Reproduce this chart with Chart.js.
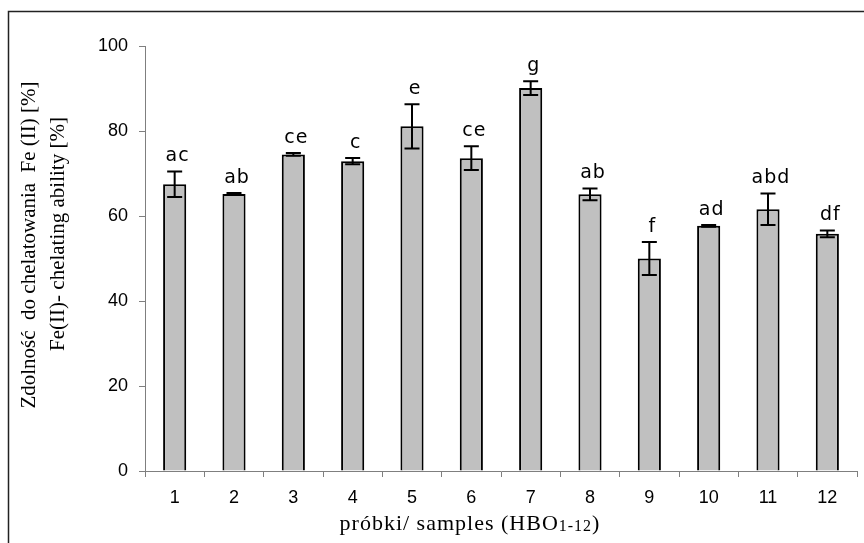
<!DOCTYPE html>
<html>
<head>
<meta charset="utf-8">
<script src="https://cdn.jsdelivr.net/npm/chart.js@4.4.1/dist/chart.umd.min.js"></script>
<style>
  html, body { margin: 0; padding: 0; background: #fff; }
  #box { position: relative; width: 864px; height: 543px; }
</style>
</head>
<body>
<div id="box"><canvas id="chelating"></canvas></div>
<script>
// chelating ability values
const samples = ['1', '2', '3', '4', '5', '6', '7', '8', '9', '10', '11', '12'];
const means = [67.5, 65.2, 74.5, 72.9, 81.1, 73.6, 90.1, 65.1, 50.0, 57.7, 61.6, 55.8];
const errors = [3.0, 0.2, 0.3, 0.75, 5.2, 2.8, 1.6, 1.4, 3.9, 0.2, 3.7, 0.8];
const letters = ['ac', 'ab', 'ce', 'c', 'e', 'ce', 'g', 'ab', 'f', 'ad', 'abd', 'df'];
const yTicks = [0, 20, 40, 60, 80, 100];

// outer frame (only left and top edges visible in the original)
const framePlugin = {
    id: 'frame',
    beforeDraw(chart) {
        const ctx = chart.ctx;
        ctx.save();
        ctx.fillStyle = '#fff';
        ctx.fillRect(0, 0, chart.width, chart.height);
        ctx.strokeStyle = '#222';
        ctx.lineWidth = 1.5;
        ctx.beginPath();
        ctx.moveTo(8.5, chart.height);
        ctx.lineTo(8.5, 11.5);
        ctx.lineTo(chart.width, 11.5);
        ctx.stroke();
        ctx.restore();
    }
};

// error bars + significance letters
const errorBarPlugin = {
    id: 'errorBars',
    afterDatasetsDraw(chart) {
        const ctx = chart.ctx;
        const xs = chart.scales.x;
        const ys = chart.scales.y;
        ctx.save();
        ctx.strokeStyle = '#000';
        ctx.lineWidth = 2;
        ctx.fillStyle = '#000';
        ctx.font = '19px "DejaVu Sans"';
        ctx.letterSpacing = '1px';
        ctx.textAlign = 'center';
        ctx.textBaseline = 'middle';
        means.forEach(function(m, i) {
            const x = xs.getPixelForValue(i);
            const top = ys.getPixelForValue(m + errors[i]);
            const bot = ys.getPixelForValue(m - errors[i]);
            ctx.beginPath();
            ctx.moveTo(x, top); ctx.lineTo(x, bot);
            ctx.moveTo(x - 7.5, top); ctx.lineTo(x + 7.5, top);
            ctx.moveTo(x - 7.5, bot); ctx.lineTo(x + 7.5, bot);
            ctx.stroke();
            ctx.fillText(letters[i], x + 3, top - 15);
        });
        ctx.restore();
    }
};

// axis titles drawn by hand (subscript in the x title)
const titlesPlugin = {
    id: 'titles',
    afterDraw(chart) {
        const ctx = chart.ctx;
        ctx.save();
        ctx.fillStyle = '#000';
        ctx.textBaseline = 'middle';
        ctx.letterSpacing = '1px';

        // x title with subscript
        const main = 'próbki/ samples (HBO';
        const sub = '1-12';
        const end = ')';
        ctx.font = '22px "Liberation Serif"';
        const w1 = ctx.measureText(main).width;
        const w3 = ctx.measureText(end).width;
        ctx.font = '16px "Liberation Serif"';
        const w2 = ctx.measureText(sub).width;
        let x = 470 - (w1 + w2 + w3) / 2;
        const y = 524;
        ctx.textAlign = 'left';
        ctx.font = '22px "Liberation Serif"';
        ctx.fillText(main, x, y);
        ctx.font = '16px "Liberation Serif"';
        ctx.fillText(sub, x + w1, y + 3);
        ctx.font = '22px "Liberation Serif"';
        ctx.fillText(end, x + w1 + w2, y);

        // y title, two lines
        ctx.letterSpacing = '0px';
        ctx.font = '21px "Liberation Serif"';
        ctx.textAlign = 'center';
        ctx.save();
        ctx.translate(29, 245);
        ctx.rotate(-Math.PI / 2);
        ctx.fillText('Zdolność  do chelatowania  Fe (II) [%]', 0, 0);
        ctx.restore();
        ctx.save();
        ctx.translate(58, 234);
        ctx.rotate(-Math.PI / 2);
        ctx.fillText('Fe(II)- chelating ability [%]', 0, 0);
        ctx.restore();

        ctx.restore();
    }
};

var ctx = document.getElementById('chelating').getContext('2d');

var chart = new Chart(ctx, {
    type: 'bar',
    data: {
        labels: samples,
        datasets: [{
            label: 'Fe(II) chelating ability',
            data: means,
            backgroundColor: '#c0c0c0',
            borderColor: '#000',
            borderWidth: 2,
            barPercentage: 0.39,
            categoryPercentage: 1.0
        }]
    },
    options: {
        responsive: true,
        maintainAspectRatio: false,
        animation: false,
        layout: { padding: { top: 46, right: 7, bottom: 0, left: 0 } },
        plugins: {
            legend: { display: false },
            tooltip: { enabled: false }
        },
        scales: {
            x: {
                offset: true,
                afterFit: function(scale) { scale.height = 72; },
                grid: {
                    display: true,
                    offset: true,
                    drawOnChartArea: false,
                    drawTicks: true,
                    tickLength: 6,
                    color: '#7f7f7f'
                },
                border: { color: '#7f7f7f', width: 1 },
                ticks: {
                    color: '#000',
                    padding: 10,
                    font: { family: '"Liberation Sans", Arial', size: 18 }
                }
            },
            y: {
                min: 0,
                max: 100,
                afterFit: function(scale) { scale.width = 145; },
                afterBuildTicks: function(scale) {
                    scale.ticks = yTicks.map(function(v) { return { value: v }; });
                },
                grid: {
                    display: true,
                    drawOnChartArea: false,
                    drawTicks: true,
                    tickLength: 6,
                    color: '#7f7f7f'
                },
                border: { color: '#7f7f7f', width: 1 },
                ticks: {
                    color: '#000',
                    padding: 11,
                    font: { family: '"Liberation Sans", Arial', size: 18 }
                }
            }
        }
    },
    plugins: [framePlugin, errorBarPlugin, titlesPlugin]
});
</script>
</body>
</html>
